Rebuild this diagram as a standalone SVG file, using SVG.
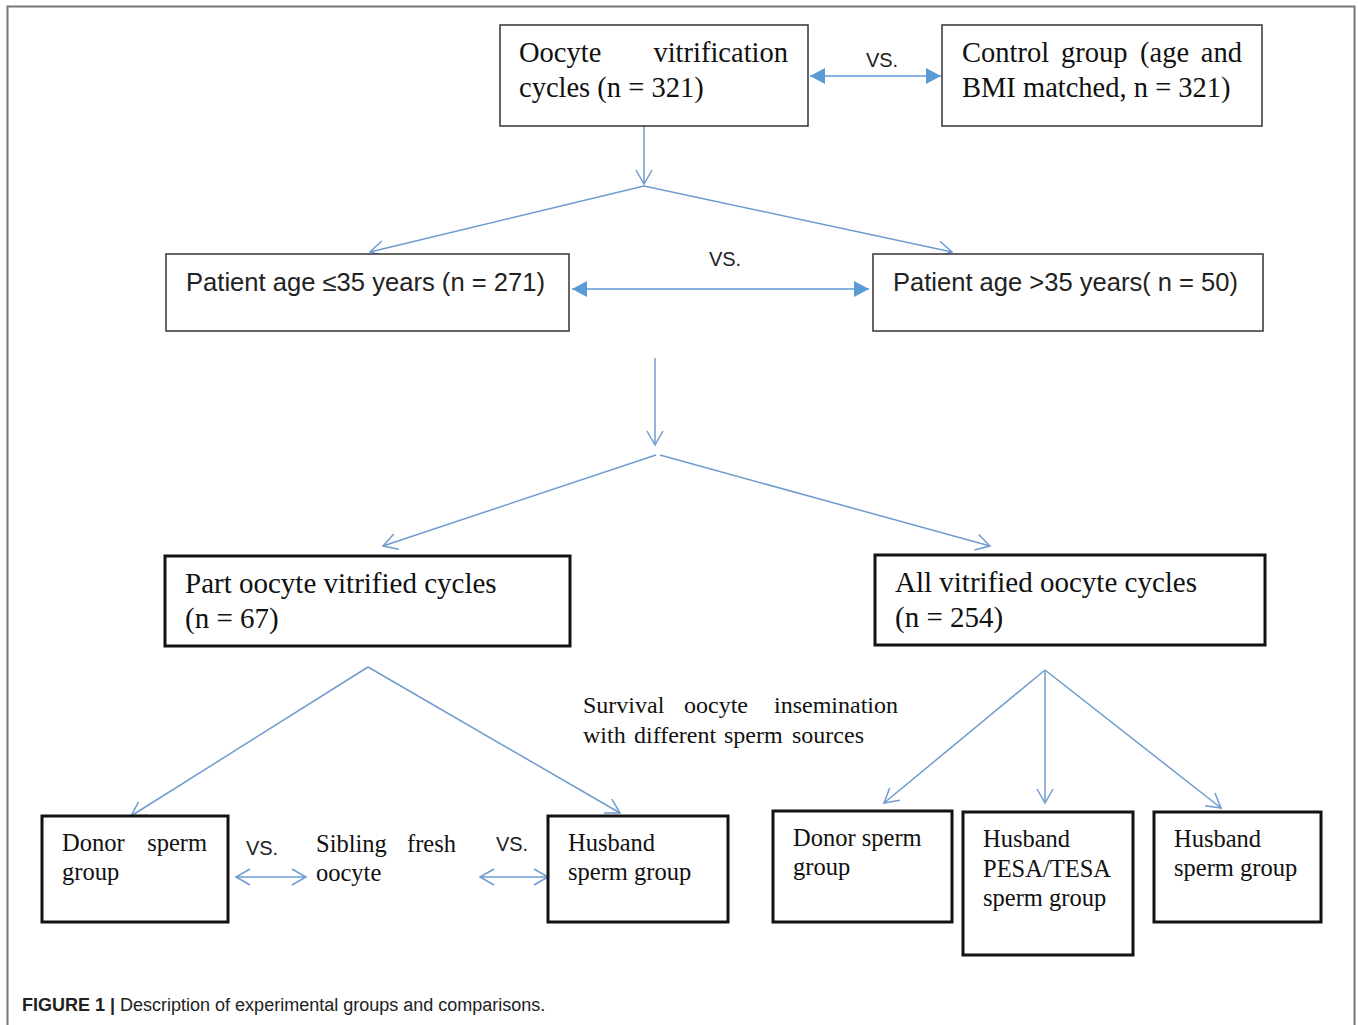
<svg xmlns="http://www.w3.org/2000/svg" width="1358" height="1025" viewBox="0 0 1358 1025">
<defs>
<style>
.bx{fill:#fff;stroke:#333;stroke-width:1.5}
.bk{fill:#fff;stroke:#111;stroke-width:3}
.ser{font-family:"Liberation Serif","Times New Roman",serif;fill:#111}
.san{font-family:"Liberation Sans",Arial,sans-serif;fill:#222}
.lo{stroke:#6f9bcf;stroke-width:1.5;fill:none;marker-end:url(#open)}
.dbo{stroke:#6f9bcf;stroke-width:1.5;fill:none;marker-start:url(#open);marker-end:url(#open)}
.dbf{stroke:#5b9bd5;stroke-width:1.5;fill:none;marker-start:url(#fill);marker-end:url(#fill)}
</style>
<marker id="open" markerUnits="userSpaceOnUse" viewBox="-16 -10 18 20" refX="0" refY="0" markerWidth="18" markerHeight="20" orient="auto-start-reverse">
<path d="M-14,-8 L0,0 L-14,8" fill="none" stroke="#6f9bcf" stroke-width="1.5"/>
</marker>
<marker id="fill" markerUnits="userSpaceOnUse" viewBox="-16 -10 18 20" refX="0" refY="0" markerWidth="18" markerHeight="20" orient="auto-start-reverse">
<path d="M-15,-8 L0,0 L-15,8 Z" fill="#5b9bd5"/>
</marker>
</defs>
<rect x="0" y="0" width="1358" height="1025" fill="#fff"/>
<rect x="7.5" y="6.5" width="1347" height="1040" fill="none" stroke="#777" stroke-width="2"/>

<g id="connectors">
<line class="lo" x1="644" y1="126" x2="644" y2="184"/>
<line class="lo" x1="644" y1="186" x2="370" y2="252"/>
<line class="lo" x1="644" y1="186" x2="952" y2="252"/>
<line class="lo" x1="655" y1="358" x2="655" y2="445"/>
<line class="lo" x1="656" y1="455" x2="383" y2="546"/>
<line class="lo" x1="660" y1="455" x2="990" y2="546"/>
<line class="lo" x1="368" y1="667" x2="131" y2="816"/>
<line class="lo" x1="368" y1="667" x2="620" y2="813"/>
<line class="lo" x1="1045" y1="670" x2="884" y2="803"/>
<line class="lo" x1="1045" y1="670" x2="1045" y2="803"/>
<line class="lo" x1="1045" y1="670" x2="1221" y2="808"/>
<line class="dbf" x1="810" y1="76" x2="941" y2="76"/>
<line class="dbf" x1="572" y1="289" x2="869" y2="289"/>
<line class="dbo" x1="236" y1="877" x2="306" y2="877"/>
<line class="dbo" x1="480" y1="877" x2="548" y2="877"/>
<text class="san" x="882" y="67" font-size="20" text-anchor="middle">VS.</text>
<text class="san" x="725" y="266" font-size="20" text-anchor="middle">VS.</text>
<text class="san" x="262" y="855" font-size="20" text-anchor="middle">VS.</text>
<text class="san" x="512" y="851" font-size="20" text-anchor="middle">VS.</text>
</g>

<g id="n-oocyte">
<rect class="bx" x="500" y="25" width="308" height="101"/>
<text class="ser" y="62" font-size="28.5"><tspan x="519">Oocyte</tspan><tspan x="788" text-anchor="end">vitrification</tspan></text>
<text class="ser" x="519" y="97" font-size="28.5">cycles (n = 321)</text>
</g>
<g id="n-control">
<rect class="bx" x="942" y="25" width="320" height="101"/>
<text class="ser" y="62" font-size="28.5"><tspan x="962">Control</tspan><tspan x="1061">group</tspan><tspan x="1140">(age</tspan><tspan x="1242" text-anchor="end">and</tspan></text>
<text class="ser" x="962" y="97" font-size="28.5">BMI matched, n = 321)</text>
</g>
<g id="n-le35">
<rect class="bx" x="166" y="254" width="403" height="77"/>
<text class="san" x="186" y="291" font-size="25" textLength="359" lengthAdjust="spacingAndGlyphs">Patient age ≤35 years (n = 271)</text>
</g>
<g id="n-gt35">
<rect class="bx" x="873" y="254" width="390" height="77"/>
<text class="san" x="893" y="291" font-size="25" textLength="345" lengthAdjust="spacingAndGlyphs">Patient age &gt;35 years( n = 50)</text>
</g>
<g id="n-part">
<rect class="bk" x="165" y="556" width="405" height="90"/>
<text class="ser" x="185" y="593" font-size="29">Part oocyte vitrified cycles</text>
<text class="ser" x="185" y="628" font-size="29">(n = 67)</text>
</g>
<g id="n-all">
<rect class="bk" x="875" y="555" width="390" height="90"/>
<text class="ser" x="895" y="592" font-size="29">All vitrified oocyte cycles</text>
<text class="ser" x="895" y="627" font-size="29">(n = 254)</text>
</g>
<g id="n-survival">
<text class="ser" y="713" font-size="24"><tspan x="583">Survival</tspan><tspan x="684">oocyte</tspan><tspan x="898" text-anchor="end">insemination</tspan></text>
<text class="ser" y="743" font-size="24"><tspan x="583">with</tspan><tspan x="634">different</tspan><tspan x="724">sperm</tspan><tspan x="792">sources</tspan></text>
</g>
<g id="n-donor1">
<rect class="bk" x="42" y="816" width="186" height="106"/>
<text class="ser" y="851" font-size="24.5"><tspan x="62">Donor</tspan><tspan x="207" text-anchor="end">sperm</tspan></text>
<text class="ser" x="62" y="880" font-size="24.5">group</text>
</g>
<g id="n-sibling">
<text class="ser" y="852" font-size="24.5"><tspan x="316">Sibling</tspan><tspan x="456" text-anchor="end">fresh</tspan></text>
<text class="ser" x="316" y="881" font-size="24.5">oocyte</text>
</g>
<g id="n-husband1">
<rect class="bk" x="548" y="816" width="180" height="106"/>
<text class="ser" x="568" y="851" font-size="24.5">Husband</text>
<text class="ser" x="568" y="880" font-size="24.5">sperm group</text>
</g>
<g id="n-donor2">
<rect class="bk" x="773" y="811" width="179" height="111"/>
<text class="ser" x="793" y="846" font-size="24.5">Donor sperm</text>
<text class="ser" x="793" y="875" font-size="24.5">group</text>
</g>
<g id="n-pesa">
<rect class="bk" x="963" y="812" width="170" height="143"/>
<text class="ser" x="983" y="847" font-size="24.5">Husband</text>
<text class="ser" x="983" y="877" font-size="24.5">PESA/TESA</text>
<text class="ser" x="983" y="906" font-size="24.5">sperm group</text>
</g>
<g id="n-husband2">
<rect class="bk" x="1154" y="812" width="167" height="110"/>
<text class="ser" x="1174" y="847" font-size="24.5">Husband</text>
<text class="ser" x="1174" y="876" font-size="24.5">sperm group</text>
</g>
<g id="caption">
<text class="san" x="22" y="1011" font-size="18" fill="#333"><tspan font-weight="bold">FIGURE 1 |</tspan> Description of experimental groups and comparisons.</text>
</g>
</svg>
